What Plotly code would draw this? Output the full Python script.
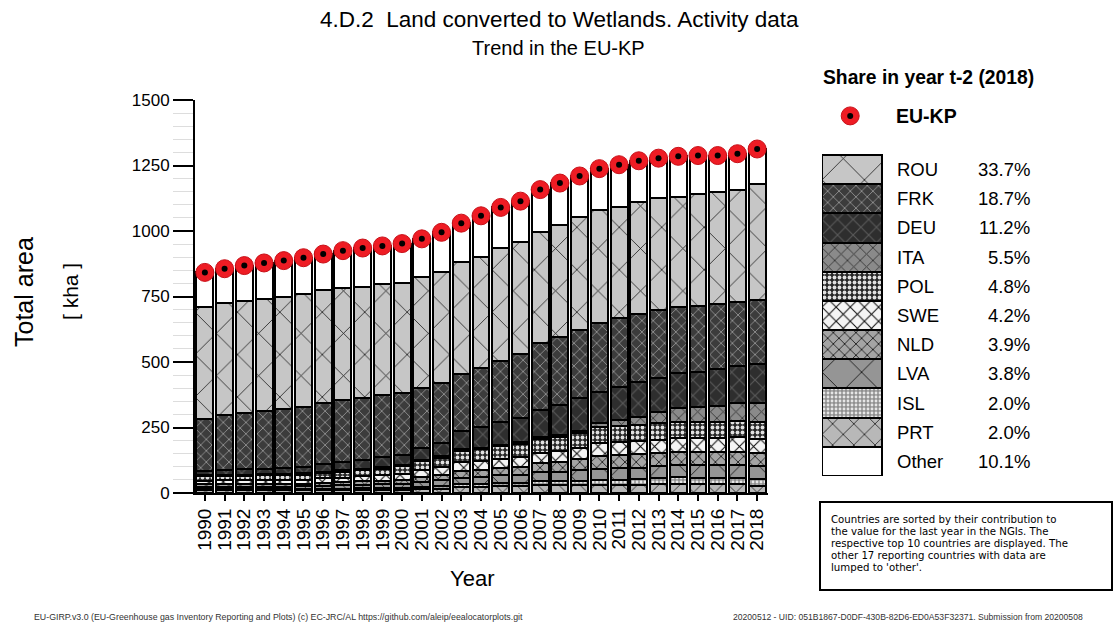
import plotly.graph_objects as go

years = list(range(1990, 2019))
eu_kp = [842, 856, 868, 878, 887, 898, 912, 925, 935, 943, 952, 970, 995, 1030, 1058,
         1090, 1114, 1158, 1183, 1210, 1238, 1253, 1268, 1278, 1285, 1288, 1288, 1295, 1313]
PRT = [11, 11, 11, 11, 11, 11, 11, 11, 12, 12, 12, 14, 17, 22, 23, 26, 26, 29, 29, 30, 31, 31, 32, 34, 35, 34, 33, 34, 26]
ISL = [5, 5, 5, 5, 5, 5, 6, 6, 6, 7, 7, 8, 9, 11, 12, 13, 14, 15, 15, 16, 18, 19, 21, 23, 25, 25, 25, 25, 26]
LVA = [8, 8, 8, 8, 8, 9, 11, 12, 13, 14, 16, 20, 22, 25, 26, 28, 30, 35, 37, 40, 43, 44, 44, 45, 46, 47, 48, 49, 50]
NLD = [9, 10, 10, 10, 10, 10, 11, 12, 13, 14, 16, 20, 22, 26, 26, 28, 30, 35, 38, 42, 51, 50, 50, 50, 50, 50, 50, 50, 51]
SWE = [14, 14, 14, 15, 15, 16, 17, 18, 19, 21, 23, 27, 30, 34, 35, 36, 37, 39, 40, 42, 47, 49, 50, 52, 53, 53, 54, 55, 55]
POL = [16, 17, 17, 18, 18, 19, 21, 22, 23, 25, 28, 32, 35, 43, 45, 47, 50, 52, 55, 58, 62, 63, 63, 62, 62, 62, 62, 63, 63]
ITA = [5, 5, 5, 5, 5, 5, 5, 5, 5, 5, 5, 5, 5, 6, 6, 6, 6, 7, 7, 8, 14, 23, 31, 42, 52, 56, 60, 66, 72]
DEU = [17, 18, 20, 20, 23, 25, 28, 32, 36, 40, 38, 45, 50, 68, 80, 88, 92, 105, 115, 125, 121, 127, 134, 130, 134, 136, 140, 143, 149]
FRK = [196, 210, 214, 222, 227, 229, 235, 237, 237, 236, 235, 229, 229, 220, 223, 230, 246, 254, 261, 261, 263, 261, 258, 260, 252, 252, 249, 245, 246]
ROU = [430, 426, 429, 425, 427, 429, 430, 426, 424, 422, 423, 426, 426, 428, 426, 432, 428, 426, 426, 433, 430, 426, 429, 427, 422, 425, 427, 426, 442]
OTHER = [131, 132, 135, 139, 138, 140, 137, 144, 147, 147, 149, 144, 150, 147, 156, 156, 155, 161, 160, 155, 158, 160, 156, 153, 154, 148, 140, 139, 133]

legend_names = ["ROU", "FRK", "DEU", "ITA", "POL", "SWE", "NLD", "LVA", "ISL", "PRT", "Other"]
legend_shares = [33.7, 18.7, 11.2, 5.5, 4.8, 4.2, 3.9, 3.8, 2.0, 2.0, 10.1]
y_ticks = [0, 250, 500, 750, 1000, 1250, 1500]
note_lines = ["Countries are sorted by their contribution to",
              "the value for the last year in the NGIs. The",
              "respective top 10 countries are displayed. The",
              "other 17 reporting countries with data are",
              "lumped to 'other'."]

series = {"PRT": PRT, "ISL": ISL, "LVA": LVA, "NLD": NLD, "SWE": SWE, "POL": POL,
          "ITA": ITA, "DEU": DEU, "FRK": FRK, "ROU": ROU, "Other": OTHER}

styles = {
    "ROU":   dict(bg="#c6c6c6", fg="#111111", shape="x", size=30, sol=0.05),
    "FRK":   dict(bg="#3c3c3c", fg="#8e8e8e", shape="x", size=8, sol=0.22),
    "DEU":   dict(bg="#2e2e2e", fg="#585858", shape="x", size=11, sol=0.2),
    "ITA":   dict(bg="#8a8a8a", fg="#3a3a3a", shape="x", size=9, sol=0.2),
    "POL":   dict(bg="#262626", fg="#e0e0e0", shape=".", size=5, sol=0.45),
    "SWE":   dict(bg="#f4f4f4", fg="#111111", shape="x", size=10, sol=0.2),
    "NLD":   dict(bg="#a4a4a4", fg="#222222", shape="x", size=8, sol=0.22),
    "LVA":   dict(bg="#959595", fg="#111111", shape="x", size=28, sol=0.06),
    "ISL":   dict(bg="#909090", fg="#e6e6e6", shape=".", size=4, sol=0.4),
    "PRT":   dict(bg="#b8b8b8", fg="#151515", shape="x", size=15, sol=0.1),
    "Other": dict(bg="#ffffff", fg="#ffffff", shape="", size=8, sol=0.3),
}

FONT = "Liberation Sans, Arial, sans-serif"

fig = go.Figure()

def marker_for(name):
    s = styles[name]
    m = dict(color=s["bg"], line=dict(color="#000000", width=2))
    if s["shape"]:
        m["pattern"] = dict(shape=s["shape"], bgcolor=s["bg"], fgcolor=s["fg"],
                            size=s["size"], solidity=s["sol"], fillmode="replace")
    return m

# main stacked bars (bottom to top)
for name, vals in series.items():
    fig.add_trace(go.Bar(x=years, y=vals, name=name, width=0.86,
                         marker=marker_for(name), xaxis="x", yaxis="y",
                         showlegend=False, hoverinfo="x+y+name"))

# EU-KP totals
fig.add_trace(go.Scatter(x=years, y=eu_kp, mode="markers", xaxis="x", yaxis="y",
                         marker=dict(color="#ee1c24", size=18, line=dict(color="#c81018", width=1)),
                         showlegend=False, cliponaxis=False))
fig.add_trace(go.Scatter(x=years, y=eu_kp, mode="markers", xaxis="x", yaxis="y",
                         marker=dict(color="#000000", size=6), showlegend=False, cliponaxis=False))

# custom legend as a stacked bar in second subplot (bottom to top)
for name in reversed(legend_names):
    fig.add_trace(go.Bar(x=[0], y=[1], width=1, marker=marker_for(name),
                         xaxis="x2", yaxis="y2", showlegend=False, hoverinfo="skip"))

# legend EU-KP marker
fig.add_trace(go.Scatter(x=[-0.03], y=[12.34], mode="markers", xaxis="x2", yaxis="y2",
                         marker=dict(color="#ee1c24", size=18, line=dict(color="#c81018", width=1)),
                         showlegend=False, cliponaxis=False, hoverinfo="skip"))
fig.add_trace(go.Scatter(x=[-0.03], y=[12.34], mode="markers", xaxis="x2", yaxis="y2",
                         marker=dict(color="#000000", size=6),
                         showlegend=False, cliponaxis=False, hoverinfo="skip"))

W, H = 1114, 624
def px(x): return x / W
def py(y): return 1 - y / H

annotations = []
n = len(legend_names)
for i, (nm, sh) in enumerate(zip(legend_names, legend_shares)):
    yc = n - i - 0.5
    annotations.append(dict(x=0.72, y=yc, xref="x2", yref="y2", text=nm, showarrow=False,
                            xanchor="left", yanchor="middle", font=dict(size=18.5, color="#000")))
    annotations.append(dict(x=3.0, y=yc, xref="x2", yref="y2", text=f"{sh:.1f}%", showarrow=False,
                            xanchor="right", yanchor="middle", font=dict(size=18.5, color="#000")))

for i, line in enumerate(note_lines):
    annotations.append(dict(x=px(830), y=py(519 + i * 12), xref="paper", yref="paper", showarrow=False,
                            text=line, font=dict(size=10.2, family="DejaVu Sans, sans-serif"),
                            xanchor="left", yanchor="middle", borderpad=0))

annotations += [
    dict(x=px(559), y=py(19), xref="paper", yref="paper", showarrow=False,
         text="4.D.2  Land converted to Wetlands. Activity data", font=dict(size=22.5),
         xanchor="center", yanchor="middle"),
    dict(x=px(558), y=py(48), xref="paper", yref="paper", showarrow=False,
         text="Trend in the EU-KP", font=dict(size=20), xanchor="center", yanchor="middle"),
    dict(x=px(821), y=py(77), xref="paper", yref="paper", showarrow=False,
         text="<b>Share in year t-2 (2018)</b>", font=dict(size=19.3), xanchor="left", yanchor="middle"),
    dict(x=px(894), y=py(116), xref="paper", yref="paper", showarrow=False,
         text="<b>EU-KP</b>", font=dict(size=19.5), xanchor="left", yanchor="middle"),
    dict(x=px(24), y=py(292), xref="paper", yref="paper", showarrow=False, textangle=-90,
         text="Total area", font=dict(size=25), xanchor="center", yanchor="middle"),
    dict(x=px(70), y=py(292), xref="paper", yref="paper", showarrow=False, textangle=-90,
         text="[ kha ]", font=dict(size=21), xanchor="center", yanchor="middle"),
    dict(x=px(472), y=py(578), xref="paper", yref="paper", showarrow=False,
         text="Year", font=dict(size=22), xanchor="center", yanchor="middle"),
    dict(x=px(32), y=py(617), xref="paper", yref="paper", showarrow=False,
         text="EU-GIRP.v3.0 (EU-Greenhouse gas Inventory Reporting and Plots) (c) EC-JRC/AL https://github.com/aleip/eealocatorplots.git",
         font=dict(size=8.8, color="#333"), xanchor="left", yanchor="middle"),
    dict(x=px(1085), y=py(617), xref="paper", yref="paper", showarrow=False,
         text="20200512 - UID: 051B1867-D0DF-430B-82D6-ED0A53F32371. Submission from 20200508",
         font=dict(size=8.6, color="#333"), xanchor="right", yanchor="middle"),
]

shapes = [dict(type="rect", xref="paper", yref="paper", x0=px(820), x1=px(1112),
               y0=py(590), y1=py(502), line=dict(color="#000", width=2), fillcolor="rgba(0,0,0,0)")]

LEG_X0, LEG_X1, LEG_Y0, LEG_Y1 = 822, 1042, 476, 95
unit_x = 60.0
unit_y = (476 - 155) / 11.0

fig.update_layout(
    width=W, height=H, autosize=False,
    margin=dict(l=0, r=0, t=0, b=0, pad=0, autoexpand=False),
    paper_bgcolor="white", plot_bgcolor="white",
    barmode="stack",
    font=dict(family=FONT, color="#000"),
    annotations=annotations, shapes=shapes,
    xaxis=dict(domain=[px(195), px(768)], anchor="y", range=[1989.5, 2018.55], automargin=False,
               tickmode="array", tickvals=years, ticktext=[str(y) for y in years],
               tickangle=-90, ticks="outside", ticklen=6, tickwidth=1.5, tickcolor="#000",
               tickfont=dict(size=19), showline=True, linecolor="#000", linewidth=2,
               showgrid=False, zeroline=False),
    yaxis=dict(domain=[py(493), py(100)], anchor="x", range=[0, 1500], automargin=False,
               tickmode="array", tickvals=y_ticks, ticks="outside", ticklen=20, tickwidth=2,
               tickcolor="#000", tickfont=dict(size=17), showline=True, linecolor="#000",
               linewidth=2, showgrid=False, zeroline=False,
               minor=dict(dtick=50, ticks="outside", ticklen=20, tickcolor="#dddddd", tickwidth=1)),
    xaxis2=dict(domain=[px(LEG_X0), px(LEG_X1)], anchor="y2", automargin=False,
                range=[-0.5, -0.5 + (LEG_X1 - LEG_X0) / unit_x], visible=False),
    yaxis2=dict(domain=[py(LEG_Y0), py(LEG_Y1)], anchor="x2", automargin=False,
                range=[0, (LEG_Y0 - LEG_Y1) / unit_y], visible=False),
)

fig.write_html("out.html", config={"displayModeBar": False},
               post_script="document.body.style.margin='0px';")
